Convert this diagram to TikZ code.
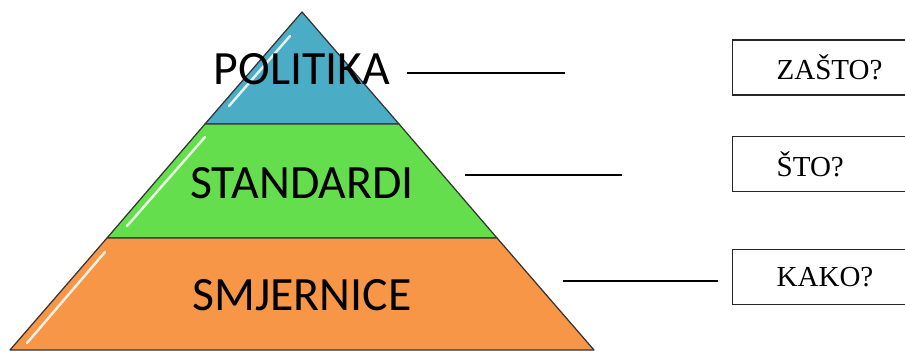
\documentclass[tikz,border=0pt]{standalone}
\usepackage{fontspec}
\setmainfont{Liberation Serif}
\newfontfamily\calibri{Carlito}
\usetikzlibrary{calc,positioning}
\definecolor{tierblue}{RGB}{75,172,198}
\definecolor{tiergreen}{RGB}{101,222,77}
\definecolor{tierorange}{RGB}{247,150,70}

\begin{document}
\begin{tikzpicture}[x=0.02cm,y=-0.02cm,
	tier/.style={draw=black!80,line width=0.7pt,line join=round},
	gloss/.style={white,opacity=0.85,line width=1.4pt,line cap=round},
	level/.style={font=\calibri\fontsize{27.2}{31}\selectfont,inner sep=0pt},
	question/.style={draw=black!85,line width=0.8pt,minimum height=1.1cm,text width=2.9cm,
		inner xsep=0.88cm,align=left,font=\fontsize{16.5}{19}\selectfont}]
	\useasboundingbox (0,0) rectangle (905,354);

	% pyramid
	\coordinate (apex) at (302,12);
	\coordinate (l1) at (205,124); \coordinate (r1) at (399,124);
	\coordinate (l2) at (107,238); \coordinate (r2) at (497,238);
	\coordinate (l3) at (10,350);  \coordinate (r3) at (594,350);
	\filldraw[tier,fill=tierblue] (apex) -- (r1) -- (l1) -- cycle;
	\filldraw[tier,fill=tiergreen] (l1) -- (r1) -- (r2) -- (l2) -- cycle;
	\filldraw[tier,fill=tierorange] (l2) -- (r2) -- (r3) -- (l3) -- cycle;
	\draw[gloss] (229,106) -- (290,36);
	\draw[gloss] (127,226) -- (205,137);
	\draw[gloss] (27,343) -- (105,252);

	\node[level] (politika) at (302,69) {POLITIKA};
	\node[level] (standardi) at (302,183) {STANDARDI};
	\node[level] (smjernice) at (302,295) {SMJERNICE};

	% questions
	\node[question,anchor=west] (zasto) at (732,67.5) {ZAŠTO?};
	\node[question,below=0.8cm of zasto] (sto) {ŠTO?};
	\node[question,below=1.14cm of sto] (kako) {KAKO?};

	\coordinate (e1) at (565,73);
	\coordinate (e2) at (622,175);
	\coordinate (e3) at (718,281);
	\draw[line width=0.8pt] ($(politika.east)+(17,4)$) -- (e1);
	\draw[line width=0.8pt] ($(standardi.east)+(51,-8)$) -- (e2);
	\draw[line width=0.8pt] ($(smjernice.east)+(151,-14)$) -- (e3);
\end{tikzpicture}
\end{document}
